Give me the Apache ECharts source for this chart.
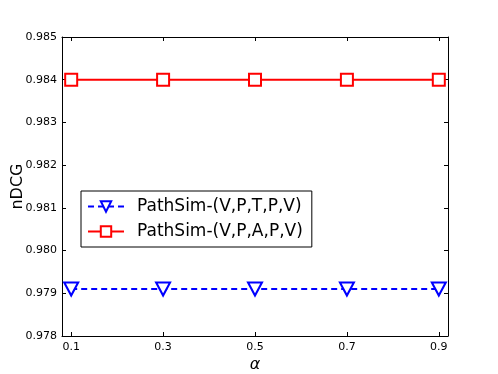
<!DOCTYPE html>
<html>
<head>
<meta charset="utf-8">
<script src="https://cdn.jsdelivr.net/npm/echarts@6/dist/echarts.min.js"></script>
<style>
  html, body { margin: 0; padding: 0; background: #fff; }
  #chart { width: 498px; height: 374px; }
</style>
</head>
<body>
<div id="chart"></div>
<script>
var alphas = [0.1, 0.3, 0.5, 0.7, 0.9]
var tptv = [0.9791, 0.9791, 0.9791, 0.9791, 0.9791]
var papv = [0.984, 0.984, 0.984, 0.984, 0.984]
var xTicks = [0.1, 0.3, 0.5, 0.7, 0.9]
var seriesNames = ['PathSim-(V,P,T,P,V)', 'PathSim-(V,P,A,P,V)']

var font = 'DejaVu Sans'

function pairs(ys) {
  return alphas.map(function (a, i) { return [a, ys[i]] })
}

var myChart = echarts.init(document.getElementById('chart'))
var option = {
  animation: false,
  backgroundColor: '#fff',
  grid: { left: 62, top: 37, width: 386, height: 299, outerBoundsMode: 'none', containLabel: false },
  legend: {
    left: 81,
    top: 191,
    orient: 'vertical',
    backgroundColor: '#fff',
    borderColor: '#000',
    borderWidth: 1,
    borderRadius: 0,
    padding: [7, 9, 7, 6],
    itemGap: 8,
    itemWidth: 36,
    itemHeight: 13,
    textStyle: { fontFamily: font, fontSize: 17, color: '#000', padding: [0, 0, 0, 8] },
    data: seriesNames
  },
  xAxis: [
    {
      type: 'value', min: 0.08, max: 0.92,
      name: 'α', nameLocation: 'middle', nameGap: 21, nameMoveOverlap: false,
      nameTextStyle: { fontFamily: font, fontSize: 16, fontStyle: 'italic', color: '#000' },
      axisLine: { lineStyle: { color: '#000', width: 1 } },
      axisTick: { inside: true, length: 4, customValues: xTicks, lineStyle: { color: '#000' } },
      axisLabel: { customValues: xTicks, fontFamily: font, fontSize: 11, color: '#000', margin: 6,
        formatter: function (v) { return v.toFixed(1) } },
      splitLine: { show: false }
    },
    {
      type: 'value', position: 'top', min: 0.08, max: 0.92,
      axisLine: { lineStyle: { color: '#000', width: 1 } },
      axisTick: { inside: true, length: 4, customValues: xTicks, lineStyle: { color: '#000' } },
      axisLabel: { show: false },
      splitLine: { show: false }
    }
  ],
  yAxis: [
    {
      type: 'value', min: 0.978, max: 0.985, interval: 0.001,
      name: 'nDCG', nameLocation: 'middle', nameGap: 36, nameMoveOverlap: false,
      nameTextStyle: { fontFamily: font, fontSize: 16, color: '#000' },
      axisLine: { show: true, lineStyle: { color: '#000', width: 1 } },
      axisTick: { show: true, inside: true, length: 4, lineStyle: { color: '#000' } },
      axisLabel: { fontFamily: font, fontSize: 11, color: '#000', margin: 5,
        formatter: function (v) { return v.toFixed(3) } },
      splitLine: { show: false }
    },
    {
      type: 'value', position: 'right', min: 0.978, max: 0.985, interval: 0.001,
      axisLine: { show: true, lineStyle: { color: '#000', width: 1 } },
      axisTick: { show: true, inside: true, length: 4, lineStyle: { color: '#000' } },
      axisLabel: { show: false },
      splitLine: { show: false }
    }
  ],
  series: [
    {
      name: seriesNames[0],
      type: 'line',
      data: pairs(tptv),
      symbol: 'path://M0,0 L10,0 L5,10 Z',
      symbolSize: [14, 13],
      itemStyle: { color: '#fff', borderColor: '#0000ff', borderWidth: 2 },
      lineStyle: { color: '#0000ff', width: 2, type: [6, 4] }
    },
    {
      name: seriesNames[1],
      type: 'line',
      data: pairs(papv),
      symbol: 'rect',
      symbolSize: 12,
      itemStyle: { color: '#fff', borderColor: '#ff0000', borderWidth: 2 },
      lineStyle: { color: '#ff0000', width: 2 }
    }
  ]
}
option && myChart.setOption(option)
</script>
</body>
</html>
